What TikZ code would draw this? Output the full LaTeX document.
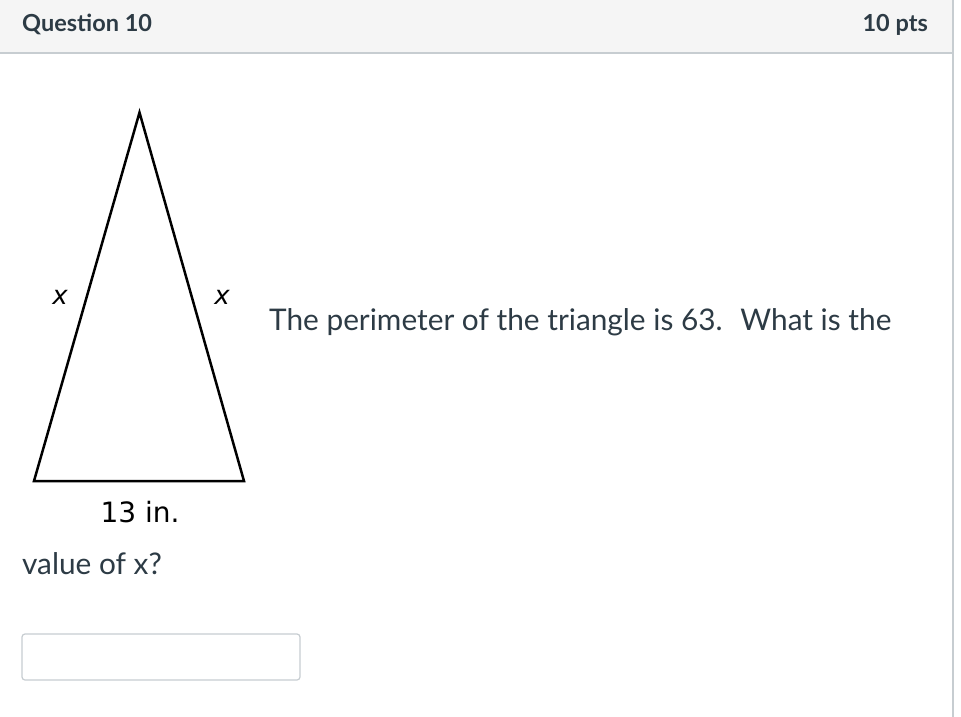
\documentclass[tikz,border=0pt]{standalone}
\usepackage{fontspec}
\setmainfont{Lato}
\newfontfamily\figfont{DejaVu Sans}
\definecolor{ink}{HTML}{2D3B45}
\definecolor{headbg}{HTML}{F5F5F5}
\definecolor{rule}{HTML}{C7CDD1}
\definecolor{boxline}{HTML}{C7CDD1}
\tikzset{
  headtxt/.style={font=\fontsize{23.5}{27}\selectfont\bfseries, text=ink, inner sep=0pt},
  bodytxt/.style={font=\fontsize{29.8}{34}\selectfont, text=ink, inner sep=0pt},
  figtxt/.style={font=\figfont\fontsize{28}{32}\selectfont, text=black, inner sep=0pt},
  figvar/.style={font=\figfont\itshape\fontsize{26}{30}\selectfont, text=black, inner sep=0pt},
  tri/.style={draw=black, line width=2.5pt, line join=miter},
}
\begin{document}
\begin{tikzpicture}[x=1pt,y=-1pt]
\useasboundingbox (0,0) rectangle (961,717);
\fill[white] (0,0) rectangle (961,717);
% header
\fill[headbg] (0,0) rectangle (953,53);
\draw[rule, line width=1.2pt] (0,53) -- (953,53);
\draw[rule, line width=1.5pt] (953,0) -- (953,717);
\node[headtxt, anchor=base west] (qtitle) at (22,32) {Question 10};
\node[headtxt, anchor=base east] (qpts) at (928,32) {10 pts};
% triangle
\coordinate (apex) at (139.5,112.5);
\coordinate (bl) at (34,481);
\coordinate (br) at (244,481);
\draw[tri] (apex) -- (bl) -- (br) -- cycle;
\node[figvar] (xl) at (60,297) {x};
\node[figvar] (xr) at (222,297) {x};
\node[figtxt, anchor=base] (base) at (140,522) {13 in.};
% text
\node[bodytxt, anchor=base west] (line1) at (269,330) {The perimeter of the triangle is 63.~ What is the};
\node[bodytxt, anchor=base west] (line2) at (22,574) {value of x?};
% answer box
\draw[boxline, line width=1.2pt, fill=white, rounded corners=3pt] (22,634) rectangle (300,680);
\end{tikzpicture}
\end{document}
